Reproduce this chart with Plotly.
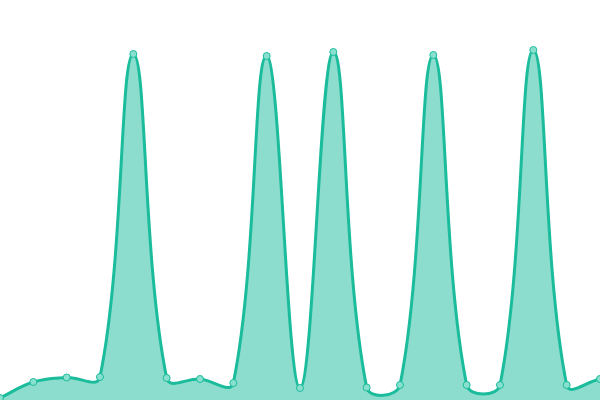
import math
import plotly.graph_objects as go

x_idx = list(range(19))
values = [2, 18, 22.5, 23, 346, 22, 21, 17, 344, 12, 348, 12.5, 15, 345, 15, 15, 350, 15, 21]

W, H = 600, 400
X_RANGE = [0, 18]
Y_RANGE = [0, 400]
TENSION = 0.4
LINE_COLOR = "#1abc9c"
FILL_COLOR = "rgba(26,188,156,0.5)"

# pixel scale factors of the axes (linear), used to compute smooth control points
sx = W / (X_RANGE[1] - X_RANGE[0])
sy = H / (Y_RANGE[1] - Y_RANGE[0])


def controls(xs, ys, t):
    n = len(xs)
    px = [(x - X_RANGE[0]) * sx for x in xs]
    py = [(y - Y_RANGE[0]) * sy for y in ys]
    out = []
    for i in range(n):
        pi = i - 1 if i > 0 else i
        ni = i + 1 if i < n - 1 else i
        d01 = math.hypot(px[i] - px[pi], py[i] - py[pi])
        d12 = math.hypot(px[ni] - px[i], py[ni] - py[i])
        tot = d01 + d12
        s01 = d01 / tot if tot else 0
        s12 = d12 / tot if tot else 0
        fa, fb = t * s01, t * s12
        dx, dy = px[ni] - px[pi], py[ni] - py[pi]
        prev_c = (px[i] - fa * dx, py[i] - fa * dy)
        next_c = (px[i] + fb * dx, py[i] + fb * dy)

        def to_data(c):
            cx = min(max(c[0], 0), W) / sx + X_RANGE[0]
            cy = min(max(c[1], 0), H) / sy + Y_RANGE[0]
            return cx, cy
        out.append((to_data(prev_c), to_data(next_c)))
    return out


ctrl = controls(x_idx, values, TENSION)
seg = f"M {x_idx[0]},{values[0]}"
for i in range(1, len(x_idx)):
    c1 = ctrl[i - 1][1]
    c2 = ctrl[i][0]
    seg += f" C {c1[0]},{c1[1]} {c2[0]},{c2[1]} {x_idx[i]},{values[i]}"

area_path = seg + f" L {x_idx[-1]},{Y_RANGE[0]} L {x_idx[0]},{Y_RANGE[0]} Z"

fig = go.Figure()
fig.add_trace(go.Scatter(
    x=x_idx, y=values,
    mode="markers",
    marker=dict(size=7, color="#8ae0cf", line=dict(color=LINE_COLOR, width=1)),
    hoverinfo="skip",
))
fig.add_shape(type="path", path=area_path, xref="x", yref="y",
              fillcolor=FILL_COLOR, line=dict(width=0), layer="below")
fig.add_shape(type="path", path=seg, xref="x", yref="y",
              fillcolor="rgba(0,0,0,0)", line=dict(color=LINE_COLOR, width=3), layer="below")
fig.update_layout(
    width=W, height=H,
    margin=dict(l=0, r=0, t=0, b=0),
    paper_bgcolor="white", plot_bgcolor="white",
    showlegend=False,
    xaxis=dict(visible=False, range=X_RANGE),
    yaxis=dict(visible=False, range=Y_RANGE),
)
fig.write_html("out.html", config={"displayModeBar": False},
               post_script="document.body.style.margin='0';document.body.style.overflow='hidden';")
